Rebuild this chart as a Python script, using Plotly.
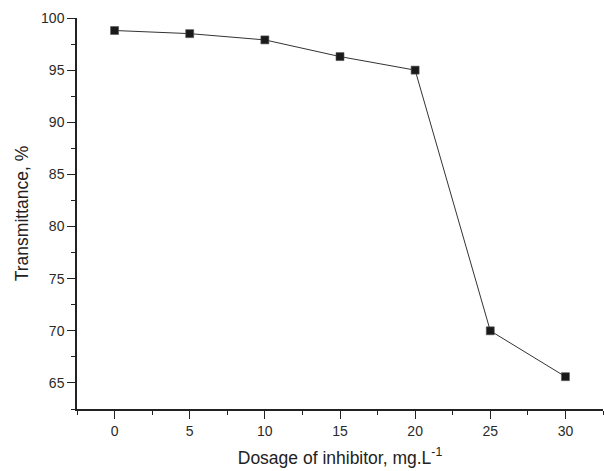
import plotly.graph_objects as go

dosage = [0, 5, 10, 15, 20, 25, 30]
transmittance = [98.8, 98.5, 97.9, 96.3, 95.0, 70.0, 65.6]
x_ticks = [0, 5, 10, 15, 20, 25, 30]
y_ticks = [65, 70, 75, 80, 85, 90, 95, 100]

FONT = "Liberation Sans, Arial"
INK = "#222222"

fig = go.Figure()
fig.add_trace(go.Scatter(
    x=dosage, y=transmittance, mode="lines+markers",
    line=dict(color="#333333", width=1),
    marker=dict(symbol="square", size=8, color="#1a1a1a",
                line=dict(color="#555555", width=0.6)),
    showlegend=False,
))

axis_common = dict(
    showline=True, linecolor=INK, linewidth=1.5,
    showgrid=False, zeroline=False,
    ticks="outside", ticklen=8, tickwidth=1.2, tickcolor=INK,
    tickfont=dict(family=FONT, size=14, color="#2a2a2a"),
    minor=dict(ticks="outside", ticklen=4.5, tickwidth=1.2, tickcolor=INK, dtick=2.5, tick0=0),
)

fig.update_xaxes(
    range=[-2.5, 32.5], tickvals=x_ticks, ticktext=[str(v) for v in x_ticks],
    title=dict(text="Dosage of inhibitor, mg.L<sup>-1</sup>", standoff=14,
               font=dict(family=FONT, size=17.5, color=INK)),
    **axis_common,
)
fig.update_yaxes(
    range=[62.5, 100], tickvals=y_ticks, ticktext=[str(v) for v in y_ticks],
    title=dict(text="Transmittance, %", standoff=8,
               font=dict(family=FONT, size=17.5, color=INK)),
    **axis_common,
)

fig.update_layout(
    width=604, height=471,
    margin=dict(l=77, r=1, t=18, b=62),
    plot_bgcolor="white", paper_bgcolor="white",
)

fig.write_html("out.html")
